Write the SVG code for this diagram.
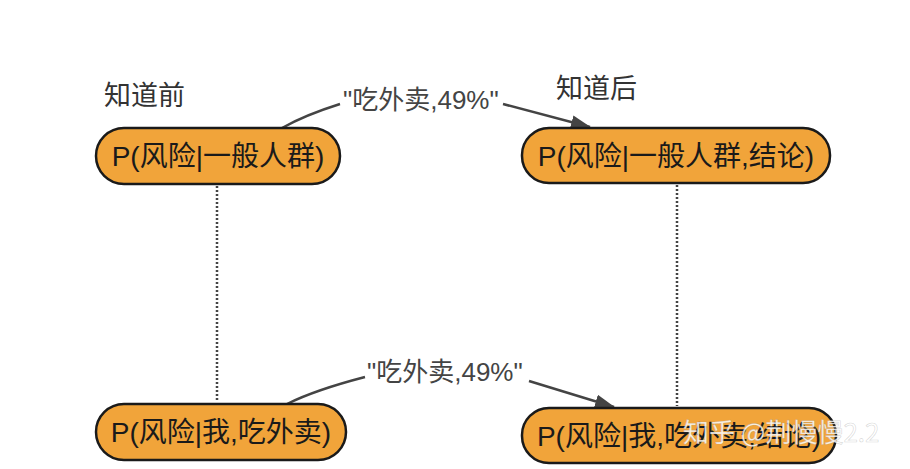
<svg xmlns="http://www.w3.org/2000/svg" width="910" height="469" viewBox="0 0 910 469">
<defs>
<style>
.node rect{fill:#F1A43A;stroke:#1a1a1a;stroke-width:2.5}
.node text{font-family:"Liberation Sans","Noto Sans CJK SC",sans-serif;font-size:28px;fill:#1a1a1a;text-anchor:middle}
.lbl{font-family:"Liberation Sans","Noto Sans CJK SC",sans-serif;font-size:27px;fill:#333}
.el{font-family:"Liberation Sans","Noto Sans CJK SC",sans-serif;font-size:26px;fill:#444}
.conn path{fill:none;stroke:#444;stroke-width:2.5}
.dot{fill:none;stroke:#444;stroke-width:2;stroke-dasharray:2 2}
</style>
<marker id="ah2" viewBox="0 0 20 14" refX="19" refY="7" markerWidth="20" markerHeight="14" markerUnits="userSpaceOnUse" orient="auto">
<path d="M0,0 L20,7 L0,14 z" fill="#444"/>
</marker>
</defs>
<rect width="910" height="469" fill="#fff"/>
<text class="lbl" x="104" y="105">知道前</text>
<text class="lbl" x="556" y="98">知道后</text>
<g class="conn">
<path class="dot" d="M217,186 L217,402"/>
<path class="dot" d="M677,185 L677,406"/>
<path d="M282,128 Q305,115 340,104"/>
<path d="M503,104 L590,127" marker-end="url(#ah2)"/>
<path d="M287,404 Q315,390 365,377"/>
<path d="M529,381 L614,407" marker-end="url(#ah2)"/>
<text class="el" x="343" y="109">"吃外卖,49%"</text>
<text class="el" x="367" y="381">"吃外卖,49%"</text>
</g>
<g id="n1" class="node"><rect x="96" y="128" width="244" height="56" rx="28"/><text x="218" y="166">P(风险|一般人群)</text></g>
<g id="n2" class="node"><rect x="522" y="128" width="308" height="55" rx="27"/><text x="676" y="166">P(风险|一般人群,结论)</text></g>
<g id="n3" class="node"><rect x="96" y="404" width="250" height="56" rx="28"/><text x="221" y="442">P(风险|我,吃外卖)</text></g>
<g id="n4" class="node"><rect x="522" y="408" width="314" height="55" rx="27"/><text x="679" y="446">P(风险|我,吃外卖,结论)</text></g>
<text x="683" y="442" font-family="'Noto Sans CJK SC',sans-serif" font-size="26" fill="#fff" fill-opacity="0.85" stroke="#999" stroke-opacity="0.4" stroke-width="0.6">知乎 @荆慢慢2.2</text>
</svg>
